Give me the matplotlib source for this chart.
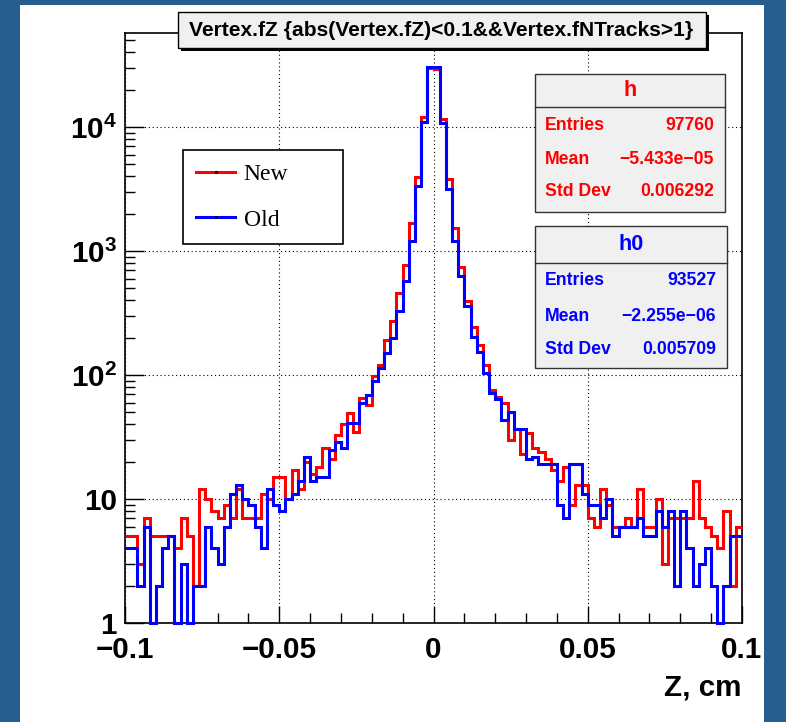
import numpy as np
import matplotlib
matplotlib.use('Agg')
import matplotlib.pyplot as plt
from matplotlib import font_manager as fm
from matplotlib.patches import Rectangle
from matplotlib.lines import Line2D
from matplotlib.ticker import FixedLocator, LogLocator, NullFormatter, MultipleLocator


def pick(names):
    for n in names:
        try:
            fm.findfont(fm.FontProperties(family=n), fallback_to_default=False)
            return n
        except Exception:
            pass
    return 'DejaVu Sans'


SANS = pick(['Liberation Sans Narrow', 'Liberation Sans', 'Arial'])
SERIF = pick(['Liberation Serif', 'DejaVu Serif'])
NARROW = SANS == 'Liberation Sans Narrow'
K = 1.0 if NARROW else 0.82   # shrink factor when no narrow face exists
plt.rcParams['mathtext.fontset'] = 'custom'
plt.rcParams['mathtext.rm'] = SANS + ':bold'
plt.rcParams['mathtext.bf'] = SANS + ':bold'

# ---------------- data ----------------
x_min, x_max, n_bins = -0.1, 0.1, 100

new_counts = [5, 5, 3, 7, 5, 5, 5, 5, 4, 7,
              5, 2, 12, 10, 8, 7, 9, 7, 12, 7,
              7, 7, 11, 10, 15, 15, 10, 17, 12, 20,
              16, 18, 26, 21, 33, 40, 49, 35, 65, 57,
              98, 120, 192, 272, 456, 771, 1670, 3980, 11970, 30000,
              29200, 11600, 3790, 1525, 748, 395, 245, 175, 120, 75,
              66, 60, 30, 37, 23, 34, 26, 24, 21, 17,
              14, 18, 9, 13, 13, 7, 6, 12, 9, 6,
              6, 7, 6, 12, 6, 6, 10, 3, 7, 7,
              7, 7, 14, 7, 6, 5, 4, 8, 2, 6]

old_counts = [4, 4, 2, 6, 1, 2, 4, 5, 1, 3,
              1, 2, 2, 6, 4, 3, 6, 11, 13, 10,
              9, 6, 4, 12, 9, 8, 10, 11, 14, 22,
              14, 15, 15, 25, 29, 26, 41, 41, 59, 69,
              90, 113, 150, 198, 330, 576, 1205, 3360, 11040, 30600,
              30600, 10700, 3140, 1205, 629, 362, 204, 154, 103, 71,
              64, 43, 50, 37, 37, 21, 22, 19, 19, 19,
              9, 7, 19, 19, 11, 9, 9, 7, 10, 5,
              6, 6, 6, 7, 5, 5, 8, 6, 8, 2,
              8, 4, 2, 3, 4, 2, 1, 2, 5, 5]

series_labels = ['New', 'Old']
xtick_values = [-0.1, -0.05, 0.0, 0.05, 0.1]
xtick_labels = ['\u22120.1', '\u22120.05', '0', '0.05', '0.1']
ytick_values = [1, 10, 100, 1000, 10000]
ytick_labels = ['1', '10', r'$\mathbf{10^{2}}$', r'$\mathbf{10^{3}}$', r'$\mathbf{10^{4}}$']
y_max = 5.73e4

title = 'Vertex.fZ {abs(Vertex.fZ)<0.1&&Vertex.fNTracks>1}'
x_title = 'Z, cm'
stat_names = ['Entries', 'Mean', 'Std Dev']
h_name, h_stats = 'h', ['97760', '\u22125.433e\u221205', '0.006292']
h0_name, h0_stats = 'h0', ['93527', '\u22122.255e\u221206', '0.005709']

RED = '#ff0000'
BLUE = '#0000ff'
BG = '#285e8e'
PANEL = '#f0f0f0'

# ---------------- figure ----------------
W, H = 786, 722
fig = plt.figure(figsize=(W / 100, H / 100), dpi=100)
fig.patch.set_facecolor(BG)


def R(x0, y0, x1, y1, **kw):
    return Rectangle((x0 / W, 1 - y1 / H), (x1 - x0) / W, (y1 - y0) / H,
                     transform=fig.transFigure, **kw)


fig.add_artist(R(20, 5, 764, 730, facecolor='white', edgecolor='none', zorder=-5))

ax = fig.add_axes([125 / W, 1 - 623 / H, 617 / W, 590 / H])
ax.set_facecolor('white')

edges = np.linspace(x_min, x_max, n_bins + 1)
ax.stairs(new_counts, edges, color=RED, lw=2.2, baseline=None, zorder=3, clip_on=False)
ax.stairs(old_counts, edges, color=BLUE, lw=2.2, baseline=None, zorder=4, clip_on=False)

ax.set_xlim(x_min, x_max)
ax.set_yscale('log')
ax.set_ylim(1, y_max)

ax.xaxis.set_major_locator(FixedLocator(xtick_values))
ax.set_xticklabels(xtick_labels)
ax.xaxis.set_minor_locator(MultipleLocator(0.01))
ax.yaxis.set_major_locator(FixedLocator(ytick_values))
ax.set_yticklabels(ytick_labels)
ax.yaxis.set_minor_locator(LogLocator(base=10, subs=np.arange(2, 10)))
ax.yaxis.set_minor_formatter(NullFormatter())

ax.grid(True, which='major', color='k', linestyle=(0, (1, 2.5)), linewidth=0.8)
ax.set_axisbelow(True)

ax.tick_params(which='both', direction='in', top=False, right=False, width=1.0, color='k')
ax.tick_params(axis='x', which='major', length=12, pad=9)
ax.tick_params(axis='x', which='minor', length=7)
ax.tick_params(axis='y', which='major', length=14, pad=6)
ax.tick_params(axis='y', which='minor', length=7)
for lab in ax.get_xticklabels() + ax.get_yticklabels():
    lab.set_fontfamily(SANS)
    lab.set_fontweight('bold')
    lab.set_fontsize(26 * K)
for s in ax.spines.values():
    s.set_linewidth(1.2)

ax.set_xlabel(x_title, fontsize=26 * K, fontweight='bold', family=SANS)
ax.xaxis.set_label_coords(1.0, -0.085)
ax.xaxis.label.set_ha('right')
ax.xaxis.label.set_va('top')

# legend
handles = [Line2D([0], [0], color=RED, lw=2.2, marker='o', ms=1.2, mfc='k', mec='k'),
           Line2D([0], [0], color=BLUE, lw=2.2, marker='o', ms=1.2, mfc='k', mec='k')]
x0 = (183 - 125) / 617
y1 = (623 - 150) / 590
leg = ax.legend(handles, series_labels, loc='upper left',
                bbox_to_anchor=(x0, 0, (343 - 183) / 617, y1), mode='expand',
                prop=fm.FontProperties(family=SERIF, size=17),
                frameon=True, fancybox=False, edgecolor='k', framealpha=1,
                borderpad=0.57, labelspacing=1.02, handlelength=1.65,
                handletextpad=0.35, borderaxespad=0, numpoints=1)
leg.get_frame().set_linewidth(1.2)
leg.set_zorder(10)

# title box with shadow
fig.add_artist(R(181, 15, 709, 51, facecolor='black', edgecolor='none', zorder=4))
fig.add_artist(R(178, 12, 706, 48, facecolor=PANEL, edgecolor='black', lw=1.0, zorder=5))
fig.text(441 / W, 1 - 30.5 / H, title, ha='center', va='center', fontsize=18.5 * K,
         fontweight='bold', family=SANS, zorder=6)


# stats boxes
def stats_box(x0, y0, x1, y1, yhead, name, values, color, rows_y):
    fig.add_artist(R(x0, y0, x1, y1, facecolor=PANEL, edgecolor='#333333', lw=1.0, zorder=5))
    fig.add_artist(Line2D([x0 / W, x1 / W], [1 - yhead / H, 1 - yhead / H],
                          transform=fig.transFigure, color='#333333', lw=1.0, zorder=6))
    fig.text((x0 + x1) / 2 / W, 1 - (y0 + yhead) / 2 / H, name, ha='center', va='center',
             fontsize=19 * K, fontweight='bold', family=SANS, color=color, zorder=7)
    for nm, val, yy in zip(stat_names, values, rows_y):
        fig.text((x0 + 10) / W, 1 - yy / H, nm, ha='left', va='center', fontsize=15.5 * K,
                 fontweight='bold', family=SANS, color=color, zorder=7)
        fig.text((x1 - 11) / W, 1 - yy / H, val, ha='right', va='center', fontsize=15.5 * K,
                 fontweight='bold', family=SANS, color=color, zorder=7)


stats_box(535, 74, 725, 212, 107, h_name, h_stats, RED, [125, 160, 192])
stats_box(535, 226, 727, 368, 263, h0_name, h0_stats, BLUE, [280, 316, 350])

fig.savefig('out.png', dpi=100, facecolor=fig.get_facecolor())
